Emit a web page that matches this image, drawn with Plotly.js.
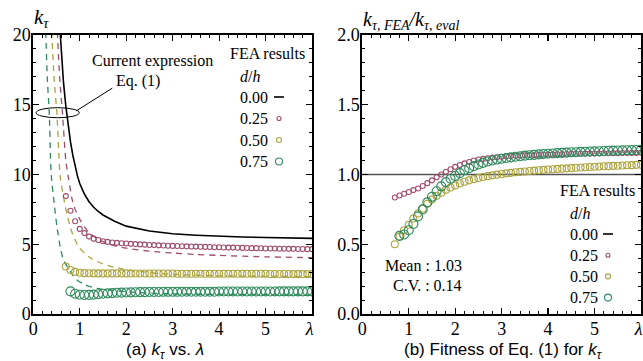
<!DOCTYPE html>
<html><head><meta charset="utf-8">
<script src="https://cdn.plot.ly/plotly-3.0.1.min.js"></script>
<style>html,body{margin:0;padding:0;background:#fff}#chart{width:643px;height:361px}</style>
</head><body><div id="chart"></div>
<script>
// ---- data ----
const tickLabels = ['0','1','2','3','4','5','<i>λ</i>&nbsp;'];
const legendLabels = ['0.00','0.25','0.50','0.75'];

// Eq.(1) curve, d/h = 0.00 (left panel)
const lamEq0 = [0.55,0.6,0.65,0.7,0.75,0.8,0.85,0.9,0.95,1.0,1.1,1.2,1.3,1.4,1.5,1.75,2.0,2.5,3.0,3.5,4.0,4.5,5.0,5.5,6.0];
const kEq0   = [21.6,18.8,16.6,14.9,13.5,12.35,11.4,10.6,9.9,9.35,8.6,8.05,7.65,7.35,7.1,6.65,6.3,5.95,5.75,5.65,5.57,5.52,5.48,5.45,5.42];

// evaluated curves (dashed), d/h = 0.25, 0.50, 0.75
const lamEv25 = [0.5,0.52,0.57,0.63,0.7,0.76,0.83,0.9,1.0,1.1,1.2,1.4,1.6,1.8,2.0,2.5,3.0,3.5,4.0,5.0,6.0];
const kEv25   = [21.0,20.0,16.8,14.3,11.0,9.7,8.3,7.5,6.8,6.25,5.85,5.35,5.05,4.85,4.72,4.5,4.37,4.27,4.2,4.1,4.04];
const lamEv50 = [0.39,0.40,0.45,0.51,0.55,0.58,0.65,0.73,0.83,0.98,1.19,1.48,1.8,2.16,2.5,2.88,3.5,4.0,5.0,6.0];
const kEv50   = [21.0,20.0,16.8,14.3,11.4,9.8,8.4,7.07,5.88,4.8,4.1,3.62,3.3,3.1,2.97,2.86,2.78,2.74,2.7,2.68];
const lamEv75 = [0.26,0.27,0.3,0.345,0.37,0.39,0.45,0.51,0.58,0.65,0.78,0.9,1.12,1.37,1.66,2.0,2.5,3.0,4.0,5.0,6.0];
const kEv75   = [21.0,20.0,17.0,14.3,11.2,9.8,7.9,6.24,4.81,3.86,3.14,2.55,2.07,1.83,1.71,1.6,1.5,1.45,1.4,1.38,1.36];

// FEA results: lambda grids
const lamA = [0.7,0.8,0.9,1.0,1.1,1.2,1.3,1.4,1.5,1.6,1.7,1.8,1.9,2.0,2.1,2.2,2.3,2.4,2.5,2.6,2.7,2.8,2.9,3.0,3.1,3.2,3.3,3.4,3.5,3.6,3.7,3.8,3.9,4.0,4.1,4.2,4.3,4.4,4.5,4.6,4.7,4.8,4.9,5.0,5.1,5.2,5.3,5.4,5.5,5.6,5.7,5.8,5.9,6.0];
const lamB = [0.8,0.9,1.0,1.1,1.2,1.3,1.4,1.5,1.6,1.7,1.8,1.9,2.0,2.1,2.2,2.3,2.4,2.5,2.6,2.7,2.8,2.9,3.0,3.1,3.2,3.3,3.4,3.5,3.6,3.7,3.8,3.9,4.0,4.1,4.2,4.3,4.4,4.5,4.6,4.7,4.8,4.9,5.0,5.1,5.2,5.3,5.4,5.5,5.6,5.7,5.8,5.9,6.0];

// FEA k values (left panel)
const kFea25 = [8.45,7.40,6.65,6.10,5.80,5.55,5.40,5.30,5.22,5.17,5.13,5.10,5.07,5.05,5.03,5.01,4.99,4.97,4.95,4.94,4.92,4.91,4.89,4.88,4.87,4.86,4.85,4.84,4.83,4.82,4.81,4.80,4.79,4.78,4.77,4.76,4.76,4.75,4.74,4.73,4.72,4.72,4.71,4.70,4.70,4.69,4.68,4.68,4.67,4.67,4.66,4.66,4.65,4.65];
const kFea50 = [3.40,3.15,3.02,2.96,2.93,2.92,2.91,2.91,2.91,2.91,2.91,2.91,2.91,2.91,2.90,2.90,2.90,2.90,2.90,2.90,2.90,2.90,2.90,2.90,2.89,2.89,2.89,2.89,2.89,2.89,2.89,2.89,2.89,2.89,2.88,2.88,2.88,2.88,2.88,2.88,2.88,2.88,2.88,2.88,2.87,2.87,2.87,2.87,2.87,2.86,2.86,2.86,2.86,2.86];
const kFea75 = [1.62,1.45,1.38,1.36,1.37,1.39,1.42,1.45,1.48,1.50,1.52,1.53,1.54,1.55,1.56,1.57,1.57,1.58,1.58,1.58,1.59,1.59,1.59,1.59,1.60,1.60,1.60,1.60,1.60,1.60,1.60,1.60,1.61,1.61,1.61,1.61,1.61,1.61,1.61,1.61,1.61,1.61,1.61,1.61,1.61,1.62,1.62,1.62,1.62,1.62,1.62,1.62,1.62];

// Ratio FEA / eval (right panel)
const r25 = [0.835,0.85,0.862,0.875,0.888,0.90,0.918,0.938,0.958,0.98,1.0,1.02,1.038,1.055,1.068,1.08,1.09,1.10,1.107,1.112,1.117,1.121,1.124,1.127,1.13,1.132,1.134,1.136,1.138,1.139,1.14,1.141,1.142,1.143,1.144,1.145,1.146,1.147,1.148,1.149,1.149,1.15,1.15,1.151,1.151,1.152,1.152,1.153,1.153,1.154,1.154,1.155,1.155,1.156];
const r50 = [0.50,0.555,0.60,0.64,0.685,0.72,0.755,0.79,0.82,0.847,0.87,0.89,0.907,0.922,0.936,0.948,0.958,0.967,0.975,0.982,0.988,0.994,0.999,1.004,1.008,1.012,1.016,1.019,1.022,1.025,1.028,1.031,1.033,1.036,1.038,1.04,1.042,1.044,1.046,1.048,1.05,1.052,1.054,1.056,1.057,1.059,1.06,1.062,1.063,1.065,1.066,1.067,1.069,1.07];
const r75 = [0.56,0.57,0.60,0.645,0.70,0.75,0.80,0.84,0.88,0.915,0.945,0.97,0.99,1.01,1.03,1.045,1.06,1.072,1.083,1.093,1.10,1.107,1.113,1.118,1.123,1.127,1.131,1.135,1.138,1.141,1.144,1.147,1.149,1.151,1.153,1.155,1.157,1.159,1.16,1.162,1.163,1.165,1.166,1.167,1.168,1.17,1.171,1.172,1.173,1.174,1.175,1.176,1.177];
const refRatio = 1.0;
const meanText = 'Mean : 1.03';
const cvText = 'C.V. : 0.14';

// ---- style ----
const C25 = '#a04d6e', C50 = '#aba33d', C75 = '#2e8a5c';
const SERIF = 'Liberation Serif';
const SANS = 'Liberation Sans';
const W = 643, PH = 279, Y0 = 314;
const px = x => x / W;
const py = y => (Y0 - y) / PH;
const dash = '6px,5px';

const traces = [
  {x: lamEq0, y: kEq0, mode:'lines', line:{color:'#000', width:1.6}, xaxis:'x', yaxis:'y'},
  {x: lamEv25, y: kEv25, mode:'lines', line:{color:C25, width:1.3, dash:dash, shape:'spline', smoothing:0.6}, xaxis:'x', yaxis:'y'},
  {x: lamEv50, y: kEv50, mode:'lines', line:{color:C50, width:1.3, dash:dash, shape:'spline', smoothing:0.6}, xaxis:'x', yaxis:'y'},
  {x: lamEv75, y: kEv75, mode:'lines', line:{color:C75, width:1.3, dash:dash, shape:'spline', smoothing:0.6}, xaxis:'x', yaxis:'y'},
  {x: lamA, y: kFea25, mode:'markers', marker:{symbol:'circle-open', size:5, color:C25, line:{width:1.1}}, xaxis:'x', yaxis:'y'},
  {x: lamA, y: kFea50, mode:'markers', marker:{symbol:'circle-open', size:7, color:C50, line:{width:1.1}}, xaxis:'x', yaxis:'y'},
  {x: lamB, y: kFea75, mode:'markers', marker:{symbol:'circle-open', size:9, color:C75, line:{width:1.1}}, xaxis:'x', yaxis:'y'},
  {x: lamA, y: r25, mode:'markers', marker:{symbol:'circle-open', size:5, color:C25, line:{width:1.1}}, xaxis:'x2', yaxis:'y2'},
  {x: lamA, y: r50, mode:'markers', marker:{symbol:'circle-open', size:7, color:C50, line:{width:1.1}}, xaxis:'x2', yaxis:'y2'},
  {x: lamB, y: r75, mode:'markers', marker:{symbol:'circle-open', size:9, color:C75, line:{width:1.1}}, xaxis:'x2', yaxis:'y2'}
];

function xAxis(domain, anchor){
  return {domain, anchor, range:[0,6], tickvals:[0,1,2,3,4,5,6], ticktext:tickLabels,
    ticks:'inside', ticklen:6, tickwidth:1.2, tickcolor:'#000', showline:true, linewidth:2, linecolor:'#000',
    mirror:'allticks', showgrid:false, zeroline:false, tickfont:{family:SERIF, size:18, color:'#000'},
    ticklabeloverflow:'allow', ticklabelstandoff:-3,
    minor:{dtick:0.2, ticks:'inside', ticklen:3, tickwidth:1, tickcolor:'#000', showgrid:false}, fixedrange:true};
}
function yAxis(range, dtick, mdt, anchor, fmt){
  return {anchor, domain:[0,1], range, dtick, tick0:0, tickformat:fmt,
    ticks:'inside', ticklen:6, tickwidth:1.2, tickcolor:'#000', showline:true, linewidth:2, linecolor:'#000',
    mirror:'allticks', showgrid:false, zeroline:false, tickfont:{family:SERIF, size:18, color:'#000'},
    ticklabelstandoff:-3, ticklabeloverflow:'allow',
    minor:{dtick:mdt, tick0:0, ticks:'inside', ticklen:3, tickwidth:1, tickcolor:'#000', showgrid:false}, fixedrange:true};
}

const ann = [];
function txt(text, x, y, anchor, size, fam, extra){
  ann.push(Object.assign({text, xref:'paper', yref:'paper', x:px(x), y:py(y), xanchor:anchor, yanchor:'middle',
    showarrow:false, font:{family:fam||SERIF, size:size||16, color:'#000'}}, extra||{}));
}
txt('<i>k</i><sub><i>τ</i></sub>', 32, 18, 'left', 21);
txt('<i>k</i><sub><i>τ, FEA</i></sub><i>/k</i><sub><i>τ, eval</i></sub>', 361, 20, 'left', 20);
txt('(a) <i>k</i><sub><i>τ</i></sub> vs. <i>λ</i>', 165, 351, 'center', 17, SANS);
txt('(b) Fitness of Eq. (1) for <i>k</i><sub><i>τ</i></sub>', 503, 351, 'center', 17, SANS);
txt('Current expression', 152, 61, 'center', 16);
txt('Eq. (1)', 137.5, 81, 'center', 16);
txt(meanText, 464, 265, 'right', 16);
txt(cvText, 464, 285, 'right', 16);

const shapes = [
  {type:'circle', xref:'x', yref:'y', x0:0.06, x1:0.99, y0:14.07, y1:14.79, line:{color:'#000', width:1}},
  {type:'line', xref:'x', yref:'y', x0:0.93, y0:14.57, x1:1.70, y1:16.19, line:{color:'#000', width:1}},
  {type:'line', xref:'x2', yref:'y2', x0:0, x1:6, y0:refRatio, y1:refRatio, line:{color:'#555', width:1.6}, layer:'below'}
];

const colors = [null, C25, C50, C75];
const msz = [0, 4, 5, 7];
function legend(x0, yTop, step, symX){
  txt('FEA results', x0 - 10, yTop, 'left', 16);
  txt('<i>d</i>/<i>h</i>', x0, yTop + 22, 'left', 16);
  for(let i=0;i<4;i++){
    const y = yTop + 43 + i*step;
    txt(legendLabels[i], x0, y, 'left', 16);
    if(i===0){
      shapes.push({type:'line', xref:'paper', yref:'paper', x0:px(symX-5), x1:px(symX+5), y0:py(y), y1:py(y), line:{color:'#000', width:1.6}});
    } else {
      const r = msz[i]/2;
      shapes.push({type:'circle', xref:'paper', yref:'paper', x0:px(symX-r), x1:px(symX+r), y0:py(y+r), y1:py(y-r), line:{color:colors[i], width:1.1}});
    }
  }
}
legend(238, 54, 21.5, 279);
legend(568, 191, 21.2, 608);

const layout = {
  width:643, height:361, margin:{l:0, r:0, t:35, b:47}, paper_bgcolor:'#fff', plot_bgcolor:'#fff',
  showlegend:false, font:{family:SERIF, color:'#000'},
  xaxis: xAxis([33.3/643, 312/643], 'y'),
  yaxis: yAxis([0,20], 5, 1, 'x', 'd'),
  xaxis2: xAxis([362.3/643, 641/643], 'y2'),
  yaxis2: yAxis([0,2], 0.5, 0.1, 'x2', '.1f'),
  annotations: ann, shapes
};
Plotly.newPlot('chart', traces, layout, {staticPlot:true, displayModeBar:false});
</script></body></html>
